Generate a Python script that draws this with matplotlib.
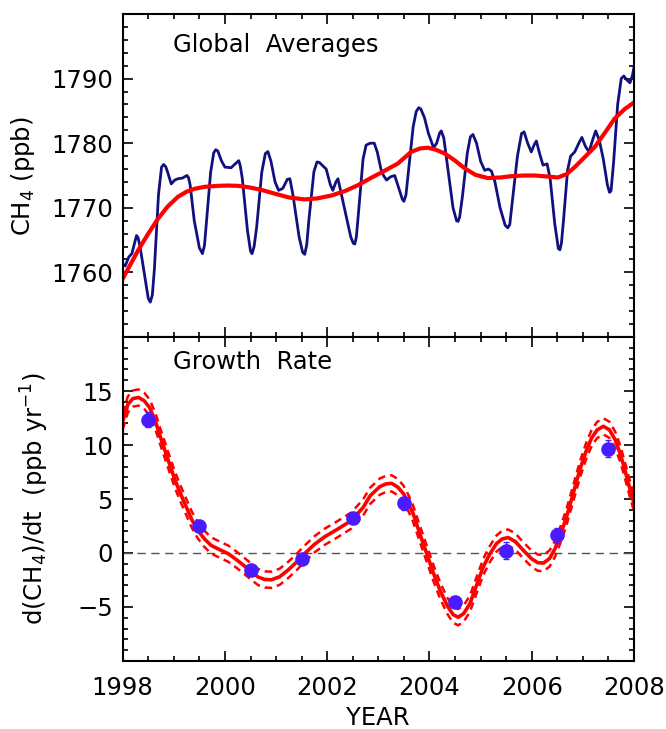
import numpy as np
import matplotlib
matplotlib.use('Agg')
import matplotlib.pyplot as plt
from matplotlib.ticker import MultipleLocator

# --- donnees ---
# moyenne globale CH4 (courbe bleue)
glob_year = [1998.00, 1998.05, 1998.12, 1998.18, 1998.24, 1998.27, 1998.30, 1998.34, 1998.44, 1998.50,
             1998.54, 1998.58, 1998.62, 1998.70, 1998.76, 1998.80, 1998.84, 1998.88, 1998.95, 1999.02,
             1999.08, 1999.17, 1999.23, 1999.26, 1999.29, 1999.32, 1999.40, 1999.50, 1999.56, 1999.60,
             1999.64, 1999.72, 1999.78, 1999.82, 1999.86, 1999.93, 2000.00, 2000.12, 2000.20, 2000.27,
             2000.30, 2000.34, 2000.44, 2000.50, 2000.53, 2000.57, 2000.62, 2000.72, 2000.79, 2000.84,
             2000.90, 2000.98, 2001.05, 2001.13, 2001.22, 2001.27, 2001.33, 2001.45, 2001.52, 2001.56,
             2001.60, 2001.64, 2001.74, 2001.80, 2001.85, 2001.90, 2001.98, 2002.06, 2002.11, 2002.17,
             2002.21, 2002.28, 2002.36, 2002.46, 2002.51, 2002.54, 2002.57, 2002.62, 2002.70, 2002.76,
             2002.84, 2002.92, 2002.98, 2003.05, 2003.10, 2003.16, 2003.24, 2003.32, 2003.40, 2003.47,
             2003.50, 2003.54, 2003.58, 2003.68, 2003.74, 2003.79, 2003.83, 2003.90, 2003.98, 2004.08,
             2004.14, 2004.20, 2004.23, 2004.28, 2004.36, 2004.46, 2004.53, 2004.56, 2004.59, 2004.64,
             2004.74, 2004.80, 2004.85, 2004.92, 2005.00, 2005.08, 2005.15, 2005.21, 2005.28, 2005.38,
             2005.48, 2005.53, 2005.57, 2005.62, 2005.72, 2005.80, 2005.85, 2005.92, 2005.99, 2006.05,
             2006.09, 2006.15, 2006.22, 2006.30, 2006.36, 2006.45, 2006.52, 2006.55, 2006.58, 2006.62,
             2006.70, 2006.76, 2006.84, 2006.92, 2006.98, 2007.05, 2007.12, 2007.19, 2007.25, 2007.32,
             2007.40, 2007.48, 2007.52, 2007.55, 2007.60, 2007.68, 2007.75, 2007.80, 2007.86, 2007.92,
             2007.97, 2008.00]
glob_ch4 = [1761.3, 1761.0, 1762.4, 1762.9, 1764.8, 1765.7, 1765.4, 1764.0, 1759.0, 1756.0,
            1755.4, 1756.5, 1760.5, 1772.0, 1776.3, 1776.7, 1776.4, 1775.5, 1773.7, 1774.3,
            1774.5, 1774.6, 1774.9, 1775.0, 1774.6, 1773.5, 1768.0, 1763.8, 1762.9, 1764.2,
            1768.0, 1775.5, 1778.5, 1779.0, 1778.8, 1777.3, 1776.3, 1776.2, 1776.8, 1777.3,
            1776.5, 1774.5, 1766.5, 1763.3, 1762.9, 1764.0, 1767.0, 1775.5, 1778.4, 1778.7,
            1777.2, 1774.0, 1772.7, 1773.0, 1774.4, 1774.5, 1772.0, 1765.5, 1763.1, 1762.8,
            1764.3, 1768.0, 1775.6, 1777.1, 1777.0, 1776.6, 1776.0, 1773.6, 1772.7, 1774.0,
            1774.5, 1772.0, 1769.2, 1765.5, 1764.5, 1764.4, 1765.5, 1770.0, 1777.5, 1779.7,
            1780.0, 1780.0, 1778.6, 1776.0, 1775.0, 1774.3, 1774.8, 1775.0, 1773.0, 1771.3,
            1771.0, 1772.0, 1775.0, 1782.5, 1784.9, 1785.5, 1785.3, 1784.0, 1781.5, 1779.3,
            1780.0, 1781.6, 1781.9, 1780.8, 1776.0, 1770.0, 1768.0, 1767.9, 1768.6, 1771.5,
            1778.5, 1781.0, 1781.35, 1780.0, 1777.2, 1775.8, 1776.0, 1775.7, 1774.0, 1770.0,
            1767.3, 1766.9, 1767.4, 1771.0, 1778.0, 1781.5, 1781.75, 1780.0, 1778.65, 1779.8,
            1780.35, 1778.5, 1776.6, 1776.8, 1774.5, 1767.5, 1763.7, 1763.5, 1764.5, 1768.0,
            1775.8, 1778.0, 1778.65, 1780.0, 1780.9, 1779.5, 1778.65, 1780.5, 1781.9, 1780.5,
            1777.5, 1773.5, 1772.4, 1772.6, 1777.0, 1786.0, 1790.0, 1790.4, 1789.8, 1789.35,
            1790.5, 1791.8]

# tendance lissee (courbe rouge du haut)
trend_year = [1998.00, 1998.15, 1998.30, 1998.50, 1998.69, 1998.88, 1999.08, 1999.25, 1999.41, 1999.60,
              1999.86, 2000.05, 2000.25, 2000.45, 2000.70, 2000.97, 2001.25, 2001.56, 2001.80, 2002.08,
              2002.35, 2002.60, 2002.85, 2003.09, 2003.38, 2003.64, 2003.82, 2003.97, 2004.12, 2004.30,
              2004.50, 2004.69, 2004.90, 2005.14, 2005.40, 2005.60, 2005.85, 2006.06, 2006.30, 2006.51,
              2006.68, 2006.84, 2007.03, 2007.23, 2007.42, 2007.62, 2007.82, 2008.00]
trend_ch4 = [1759.0, 1761.2, 1763.4, 1766.0, 1768.3, 1770.2, 1771.7, 1772.5, 1772.95, 1773.25,
             1773.4, 1773.45, 1773.4, 1773.2, 1772.8, 1772.2, 1771.6, 1771.3, 1771.45, 1771.9,
             1772.6, 1773.5, 1774.6, 1775.6, 1776.85, 1778.65, 1779.2, 1779.3, 1779.0, 1778.4,
             1777.3, 1776.1, 1775.1, 1774.6, 1774.7, 1774.9, 1775.0, 1775.0, 1774.85, 1774.7,
             1775.2, 1776.3, 1777.8, 1779.4, 1781.5, 1783.8, 1785.3, 1786.3]

# taux de croissance (courbe rouge du bas)
rate_year = [1998.00, 1998.05, 1998.10, 1998.20, 1998.31, 1998.42, 1998.53, 1998.64, 1998.755, 1998.89,
             1999.02, 1999.13, 1999.24, 1999.35, 1999.47, 1999.60, 1999.73, 1999.90, 2000.06, 2000.22,
             2000.39, 2000.52, 2000.65, 2000.78, 2000.91, 2001.07, 2001.23, 2001.40, 2001.56, 2001.75,
             2001.95, 2002.20, 2002.47, 2002.70, 2002.84, 2003.03, 2003.15, 2003.26, 2003.38, 2003.49,
             2003.58, 2003.68, 2003.81, 2003.945, 2004.08, 2004.21, 2004.35, 2004.46, 2004.56, 2004.67,
             2004.79, 2004.92, 2005.05, 2005.18, 2005.31, 2005.42, 2005.54, 2005.68, 2005.835, 2006.00,
             2006.12, 2006.23, 2006.35, 2006.455, 2006.57, 2006.68, 2006.81, 2006.94, 2007.06, 2007.17,
             2007.28, 2007.40, 2007.52, 2007.63, 2007.73, 2007.82, 2007.91, 2008.00]
rate_val = [12.2, 12.9, 13.75, 14.3, 14.4, 14.1, 13.45, 12.2, 10.5, 8.6,
            6.8, 5.5, 4.3, 3.1, 2.1, 1.3, 0.7, 0.3, -0.05, -0.6,
            -1.24, -1.75, -2.23, -2.45, -2.48, -2.2, -1.6, -0.85, -0.05, 0.8,
            1.5, 2.2, 3.0, 4.2, 5.3, 6.15, 6.4, 6.45, 6.1, 5.5,
            4.7, 3.65, 1.8, -0.05, -1.9, -3.5, -4.9, -5.7, -5.95, -5.6,
            -4.7, -3.0, -1.3, -0.1, 0.87, 1.3, 1.43, 1.05, 0.25, -0.55,
            -0.9, -0.93, -0.5, 0.4, 1.8, 3.35, 5.5, 7.7, 9.4, 10.65,
            11.4, 11.73, 11.4, 10.5, 9.2, 7.7, 6.1, 4.6]
rate_sig = 0.75  # demi-largeur de l'enveloppe pointillee

# taux annuels (points bleus)
annual_year = [1998.5, 1999.5, 2000.5, 2001.5, 2002.5, 2003.5, 2004.5, 2005.5, 2006.5, 2007.5]
annual_rate = [12.35, 2.5, -1.55, -0.55, 3.25, 4.6, -4.5, 0.2, 1.65, 9.65]
annual_err = [0.7, 0.4, 0.4, 0.4, 0.4, 0.6, 0.4, 0.8, 0.7, 0.8]

year_ticks = [1998, 2000, 2002, 2004, 2006, 2008]

plt.rcParams['font.family'] = 'DejaVu Sans'
plt.rcParams['font.size'] = 17.5

fig = plt.figure(figsize=(6.66, 7.29), dpi=100)
ax1 = fig.add_axes([0.1842, 0.5377, 0.7678, 0.4431])
ax2 = fig.add_axes([0.1842, 0.0933, 0.7678, 0.4444])

red = '#ff0000'

# panneau du haut
ax1.plot(glob_year, glob_ch4, color='#101080', lw=2)
ax1.plot(trend_year, trend_ch4, color=red, lw=3)
ax1.set_xlim(1998, 2008)
ax1.set_ylim(1750, 1800)
ax1.set_yticks([1760, 1770, 1780, 1790])
ax1.yaxis.set_minor_locator(MultipleLocator(2))
ax1.xaxis.set_major_locator(MultipleLocator(2))
ax1.xaxis.set_minor_locator(MultipleLocator(0.5))
ax1.set_xticklabels([])
ax1.text(0.098, 0.905, 'Global  Averages', transform=ax1.transAxes, va='center', ha='left')

# panneau du bas
rate = np.array(rate_val)
ax2.axhline(0, color='#555555', lw=1, ls=(0, (6, 4)))
ax2.plot(rate_year, rate + rate_sig, color=red, lw=1.8, ls=(0, (3, 2)))
ax2.plot(rate_year, rate - rate_sig, color=red, lw=1.8, ls=(0, (3, 2)))
ax2.plot(rate_year, rate, color=red, lw=2.6)
ax2.errorbar(annual_year, annual_rate, yerr=annual_err, fmt='o', color='#4a1bff',
             ms=9.5, elinewidth=1, capsize=2.5, zorder=5)
ax2.set_xlim(1998, 2008)
ax2.set_ylim(-10, 20)
ax2.set_yticks([-5, 0, 5, 10, 15])
ax2.yaxis.set_minor_locator(MultipleLocator(1))
ax2.set_xticks(year_ticks)
ax2.xaxis.set_minor_locator(MultipleLocator(0.5))
ax2.text(0.098, 0.923, 'Growth  Rate', transform=ax2.transAxes, va='center', ha='left')

for ax in (ax1, ax2):
    ax.tick_params(which='both', direction='in', top=True, right=True, width=1.2)
    ax.tick_params(which='major', length=7, pad=7)
    ax.tick_params(which='minor', length=3.5)
    for s in ax.spines.values():
        s.set_linewidth(1.5)
ax2.tick_params(axis='x', which='major', pad=11)

fig.text(0.0345, 0.759, 'CH$_4$ (ppb)', rotation=90, ha='center', va='center')
fig.text(0.0525, 0.316, 'd(CH$_4$)/dt  (ppb yr$^{-1}$)', rotation=90, ha='center', va='center')
fig.text(0.567, 0.015, 'YEAR', ha='center', va='center')

fig.savefig('out.png', dpi=100)
